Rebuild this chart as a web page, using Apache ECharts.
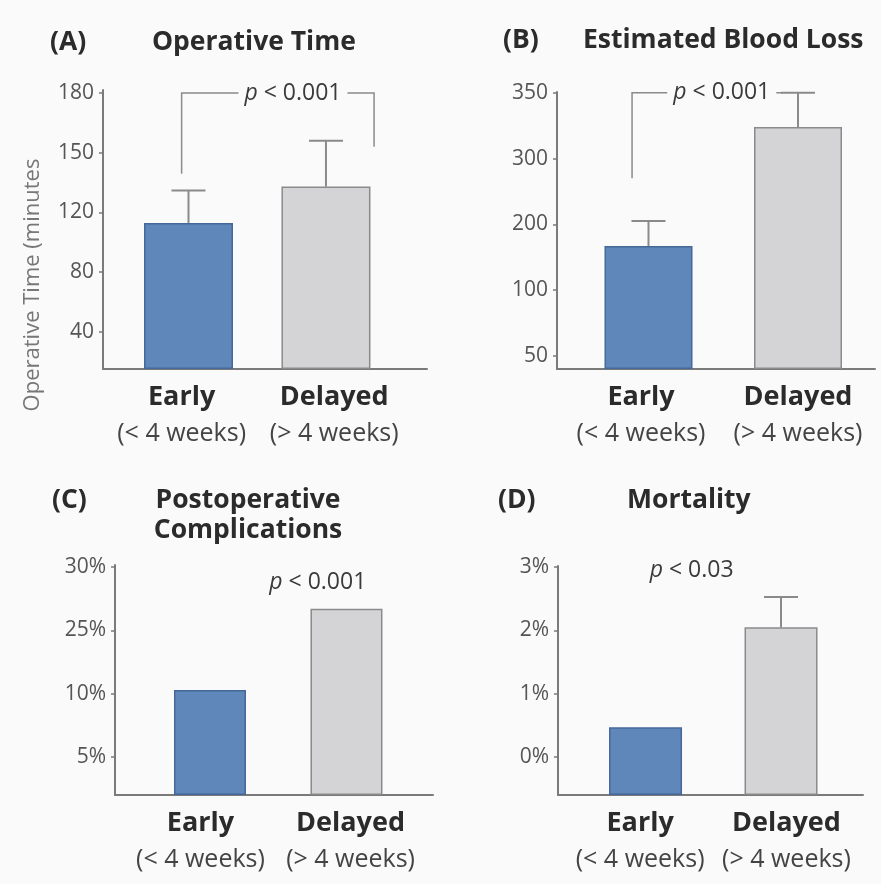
<!DOCTYPE html>
<html><head><meta charset="utf-8">
<script src="https://cdn.jsdelivr.net/npm/echarts@6.0.0/dist/echarts.min.js"></script>
<style>html,body{margin:0;padding:0;background:#fafafa;} #c{width:881px;height:884px;}</style>
</head><body><div id="c"></div>
<script>
// ---------------- data ----------------
const categories = ['Early', 'Delayed'];
const categoryNotes = ['(< 4 weeks)', '(> 4 weeks)'];

const opTimeTicks = [40, 80, 120, 150, 180];
const opTimeMean = [113, 133];
const opTimeUpper = [131, 156];

const bloodLossTicks = [50, 100, 200, 300, 350];
const bloodLossMean = [167, 324];
const bloodLossUpper = [205, 350];

const complicationTicks = [5, 10, 25, 30];
const complicationRate = [10.9, 26.7];

const mortalityTicks = [0, 1, 2, 3];
const mortalityRate = [0.47, 2.05];
const mortalityUpper = [null, 2.53];

const pValues = ['< 0.001', '< 0.001', '< 0.001', '< 0.03'];

// ---------------- layout / style ----------------
const FONT = '"Open Sans", "Noto Sans", sans-serif';
const BG = '#fafafa';
const AXIS = '#7a7a7a';
const ERR = '#8a8a8a';
const barStyles = [
  {color: '#5f87b9', borderColor: '#45689a', borderWidth: 1.5},
  {color: '#d4d4d6', borderColor: '#8a8a8a', borderWidth: 1.5}
];

// axis with equally spaced (non-linear) tick labels: piecewise-linear scale between ticks
function makePos(ticks, offset) {
  return function (v) {
    let i = 0;
    while (i < ticks.length - 2 && v > ticks[i + 1]) i++;
    return offset + i + (v - ticks[i]) / (ticks[i + 1] - ticks[i]);
  };
}

const panels = [
  {grid: {left: 103, top: 90, width: 324, height: 279}, ticks: opTimeTicks, unit: '',
   mean: opTimeMean, upper: opTimeUpper, offset: 0.62, yMax: 4.67, xMin: -0.622, xMax: 1.735, barWidth: 89,
   labelAt: [-0.05, 1.06],
   bracket: [[-0.05, 139.5], [-0.05, 180], [1.35, 180], [1.35, 153]],
   pAt: [0.76, 180], p: pValues[0]},
  {grid: {left: 557, top: 92, width: 318, height: 277}, ticks: bloodLossTicks, unit: '',
   mean: bloodLossMean, upper: bloodLossUpper, offset: 0.2, yMax: 4.213, xMin: -0.612, xMax: 1.515, barWidth: 88,
   labelAt: [-0.05, 1.0],
   bracket: [[-0.11, 270], [-0.11, 350], [0.9, 350]], pAt: [0.49, 350], p: pValues[1]},
  {grid: {left: 115, top: 565, width: 318, height: 230}, ticks: complicationTicks, unit: '%',
   mean: complicationRate, upper: [null, null], offset: 0.6, yMax: 3.633, xMin: -0.696, xMax: 1.634, barWidth: 72,
   labelAt: [-0.07, 1.03],
   pAt: [0.79, 28.8], p: pValues[2]},
  {grid: {left: 558, top: 566, width: 305, height: 229}, ticks: mortalityTicks, unit: '%',
   mean: mortalityRate, upper: mortalityUpper, offset: 0.6, yMax: 3.618, xMin: -0.646, xMax: 1.605, barWidth: 73,
   labelAt: [-0.04, 1.04],
   pAt: [0.34, 2.95], p: pValues[3]}
];

const titles = [
  {text: '(A)', x: 50, y: 42, align: 'left'},
  {text: 'Operative Time', x: 152, y: 42, align: 'left'},
  {text: '(B)', x: 503, y: 40, align: 'left'},
  {text: 'Estimated Blood Loss', x: 583, y: 40, align: 'left'},
  {text: '(C)', x: 52, y: 500, align: 'left'},
  {text: 'Postoperative\nComplications', x: 248, y: 515, align: 'center'},
  {text: '(D)', x: 498, y: 500, align: 'left'},
  {text: 'Mortality', x: 627, y: 500, align: 'left'}
];
const yAxisTitle = {text: 'Operative Time (minutes', x: 33, y: 285};

function errorRender(params, api) {
  const x = api.value(0);
  const a = api.coord([x, api.value(1)]);
  const b = api.coord([x, api.value(2)]);
  const s = {stroke: ERR, lineWidth: 2};
  return {type: 'group', children: [
    {type: 'line', shape: {x1: a[0], y1: a[1], x2: b[0], y2: b[1]}, style: s},
    {type: 'line', shape: {x1: b[0] - 17, y1: b[1], x2: b[0] + 17, y2: b[1]}, style: s}
  ]};
}

function annRender(panel) {
  return function (params, api) {
    const children = [];
    if (panel.bracket) {
      const pts = panel.bracket.map(p => api.coord([p[0], panel.pos(p[1])]));
      children.push({type: 'polyline', shape: {points: pts},
        style: {stroke: ERR, lineWidth: 1.5, fill: 'none'}});
    }
    const t = api.coord([api.value(0), api.value(1)]);
    children.push({type: 'text', x: t[0], y: t[1], z2: 10, style: {
      text: '{i|p} ' + panel.p,
      rich: {i: {fontStyle: 'italic', fontFamily: FONT, fontSize: 23, fill: '#3a3a3a'}},
      fontFamily: FONT, fontSize: 23, fill: '#3a3a3a', align: 'center', verticalAlign: 'middle',
      backgroundColor: panel.bracket ? BG : 'transparent', padding: [2, 6]
    }});
    return {type: 'group', children};
  };
}

const grid = [], xAxis = [], yAxis = [], series = [];
panels.forEach((p, k) => {
  p.pos = makePos(p.ticks, p.offset);
  grid.push(Object.assign({containLabel: false, outerBoundsMode: 'none'}, p.grid));
  xAxis.push({
    type: 'value', gridIndex: k, min: p.xMin, max: p.xMax,
    splitLine: {show: false}, axisTick: {show: false},
    axisLine: {show: true, onZero: false, lineStyle: {color: AXIS, width: 2}},
    axisLabel: {
      customValues: p.labelAt, margin: 11,
      formatter: v => { const i = v < 0.5 ? 0 : 1; return '{b|' + categories[i] + '}\n{s|' + categoryNotes[i] + '}'; },
      rich: {
        b: {fontFamily: FONT, fontSize: 27, fontWeight: 'bold', color: '#2b2b2b', lineHeight: 34},
        s: {fontFamily: FONT, fontSize: 25, color: '#444', lineHeight: 40}
      }
    }
  });
  const tickPos = p.ticks.map((t, i) => p.offset + i);
  yAxis.push({
    type: 'value', gridIndex: k, min: 0, max: p.yMax,
    splitLine: {show: false},
    axisLine: {show: true, onZero: false, lineStyle: {color: AXIS, width: 2}},
    axisTick: {show: true, length: 4, customValues: tickPos, lineStyle: {color: AXIS, width: 1.5}},
    axisLabel: {
      customValues: tickPos, margin: 9, color: '#555', fontFamily: FONT, fontSize: 21,
      formatter: v => p.ticks[Math.round(v - p.offset)] + p.unit
    }
  });
  series.push({
    type: 'bar', xAxisIndex: k, yAxisIndex: k, barWidth: p.barWidth, silent: true,
    data: p.mean.map((v, i) => ({value: [i, p.pos(v)], itemStyle: barStyles[i]}))
  });
  const errData = [];
  p.mean.forEach((v, i) => { if (p.upper[i] != null) errData.push([i, p.pos(v), p.pos(p.upper[i])]); });
  if (errData.length) {
    series.push({type: 'custom', xAxisIndex: k, yAxisIndex: k, silent: true, z: 3,
      encode: {x: 0, y: [1, 2]}, renderItem: errorRender, data: errData});
  }
  series.push({type: 'custom', xAxisIndex: k, yAxisIndex: k, silent: true, z: 4, clip: false,
    encode: {x: 0, y: 1}, renderItem: annRender(p), data: [[p.pAt[0], p.pos(p.pAt[1])]]});
});

const graphic = titles.map(t => ({type: 'text', x: t.x, y: t.y, style: {
  text: t.text, fontFamily: FONT, fontSize: 26.5, fontWeight: 'bold', fill: '#2b2b2b',
  align: t.align, verticalAlign: 'middle', lineHeight: 30
}}));
graphic.push({type: 'text', x: yAxisTitle.x, y: yAxisTitle.y, rotation: Math.PI / 2, style: {
  text: yAxisTitle.text, fontFamily: FONT, fontSize: 22, fill: '#777', align: 'center', verticalAlign: 'middle'
}});

const chart = echarts.init(document.getElementById('c'), null, {renderer: 'canvas'});
chart.setOption({
  backgroundColor: BG, animation: false,
  grid, xAxis, yAxis, series, graphic
});
</script></body></html>
